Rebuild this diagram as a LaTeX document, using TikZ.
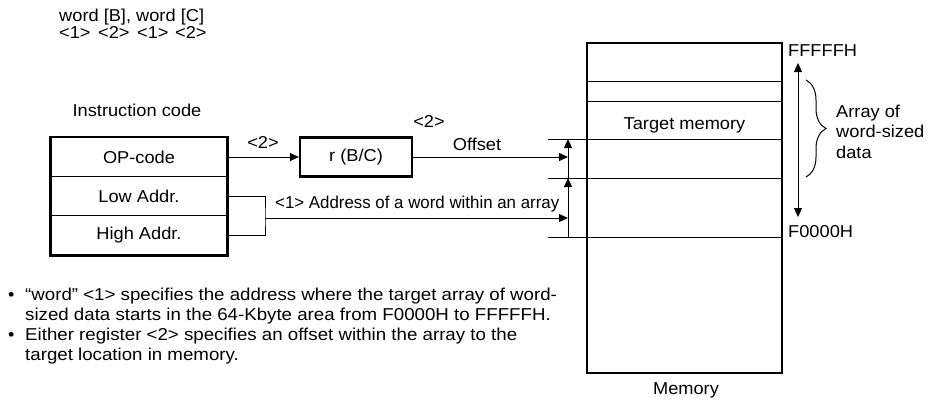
\documentclass[tikz,border=0pt]{standalone}
\usepackage{fontspec}
\setmainfont{Liberation Sans}[FakeStretch=1.06]
\usetikzlibrary{arrows.meta,decorations.pathreplacing}
\begin{document}
\begin{tikzpicture}[x=1pt,y=-1pt,
  every node/.style={font=\fontsize{17.2}{20}\selectfont},
  txt/.style={inner sep=0pt, anchor=base west},
  ctxt/.style={inner sep=0pt, anchor=base},
  rowbox/.style={draw, line width=1.7pt, minimum width=176pt, minimum height=39pt, inner sep=0pt},
  regbox/.style={draw, line width=2.2pt, minimum width=112pt, minimum height=39pt, inner sep=0pt},
  conn/.style={line width=1pt},
  arr/.style={conn, -{Triangle[length=9pt,width=8pt]}},
  darr/.style={conn, {Triangle[length=9pt,width=8pt]}-{Triangle[length=9pt,width=8pt]}},
  thickb/.style={line width=2.3pt},
  memline/.style={line width=1pt}]
\useasboundingbox (0,0) rectangle (930,400);

% top text
\node[txt] (syn) at (59,21) {word [B], word [C]};
\node[txt] (s1) at (59,38) {<1>};
\node[txt] (s2) at (98,38) {<2>};
\node[txt] (s3) at (137,38) {<1>};
\node[txt] (s4) at (175,38) {<2>};

% instruction code
\node[ctxt] (ictitle) at (137,116) {Instruction code};
\node[rowbox] (op) at (139,157) {OP-code};
\node[rowbox] (low) at (139,196) {Low Addr.};
\node[rowbox] (high) at (139,235) {High Addr.};
\draw[thickb] (op.north west) rectangle (high.south east);

% register
\node[regbox] (reg) at (356,157) {r (B/C)};
\draw[arr] (op.east) -- (reg.west);
\node[ctxt] (l2a) at (263,148) {<2>};

% memory
\node[draw, thickb, minimum width=195pt, minimum height=330pt, inner sep=0pt] (mem) at (684.5,208) {};
\draw[memline] (587,81) -- (782,81);
\draw[memline] (587,101) -- (782,101);
\draw[memline] (548,139) -- (782,139);
\draw[memline] (548,178) -- (782,178);
\draw[memline] (548,237) -- (782,237);
\node[ctxt] (tm) at (684.5,129) {Target memory};
\node[ctxt] (memlbl) at (686,394) {Memory};

% address arrows
\coordinate (a0) at (568,237);
\coordinate (a1) at (568,178);
\coordinate (a2) at (568,139);
\draw[arr] (a0) -- (a1);
\draw[arr] (a1) -- (a2);
\draw[arr] (reg.east) -- (reg.east -| a0);
\node[ctxt] (offl) at (477,150) {Offset};
\node[ctxt] (l2b) at (429,127) {<2>};

\coordinate (brk) at (265,218);
\draw[conn] (low.east) -| (brk) |- (high.east);
\draw[arr] (brk) -- (brk -| a0);
\node[txt] (addrl) at (275,208) {\scalebox{0.925}[1]{<1> Address of a word within an array}};

% right side
\node[txt] (ffl) at (788,56) {FFFFFH};
\node[txt] (f0l) at (788,237) {F0000H};
\coordinate (rt) at (798,63);
\coordinate (rb) at (798,217);
\draw[darr] (rt) -- (rb);
\coordinate (bt) at (806,80);
\coordinate (bb) at (806,177);
\draw[conn, decorate, decoration={brace, amplitude=20pt}] (bt) -- (bb);
\node[txt] (ar1) at (836,117) {Array of};
\node[txt] (ar2) at (836,137) {word-sized};
\node[txt] (ar3) at (836,158) {data};

% notes
\node[txt] (b1) at (8,300) {•};
\node[txt] (n1) at (25,300) {\scalebox{1.025}[1]{“word” <1> specifies the address where the target array of word-}};
\node[txt] (n2) at (25,320) {\scalebox{1.025}[1]{sized data starts in the 64-Kbyte area from F0000H to FFFFFH.}};
\node[txt] (b2) at (8,340) {•};
\node[txt] (n3) at (25,340) {\scalebox{1.025}[1]{Either register <2> specifies an offset within the array to the}};
\node[txt] (n4) at (25,360) {\scalebox{1.025}[1]{target location in memory.}};
\end{tikzpicture}
\end{document}
